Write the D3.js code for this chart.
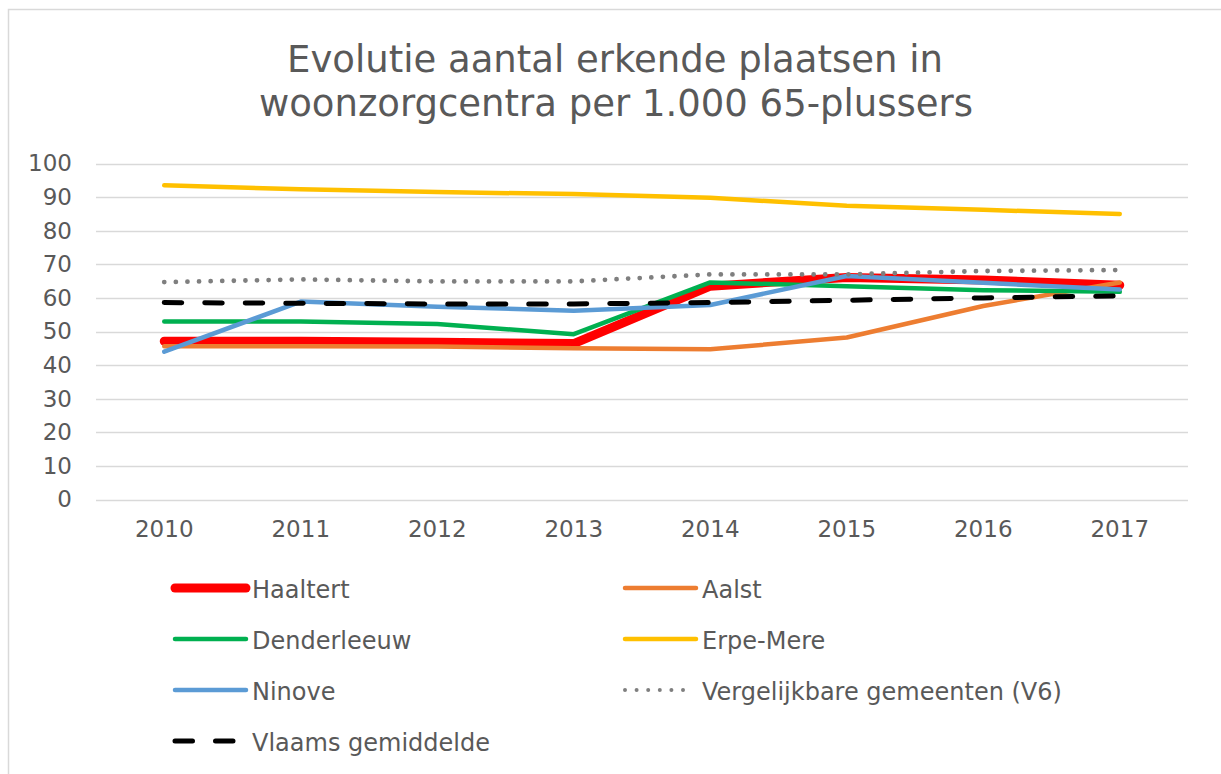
<!DOCTYPE html>
<html>
<head>
<meta charset="utf-8">
<script src="https://cdn.jsdelivr.net/npm/d3@7"></script>
<style>
  html, body { margin: 0; padding: 0; background: #fff; }
  svg { display: block; }
  text { font-family: "DejaVu Sans", Verdana, sans-serif; fill: #595959; }
</style>
</head>
<body>
<svg id="chart" width="1221" height="774"></svg>
<script>
const years = ["2010", "2011", "2012", "2013", "2014", "2015", "2016", "2017"];
const yTicks = [0, 10, 20, 30, 40, 50, 60, 70, 80, 90, 100];
const titleLines = ["Evolutie aantal erkende plaatsen in", "woonzorgcentra per 1.000 65-plussers"];

const haaltert   = [47.1, 47.1, 46.8, 46.4, 63.5, 66.1, 65.3, 63.8];
const aalst      = [45.6, 45.6, 45.5, 45.0, 44.7, 48.2, 57.6, 64.6];
const denderleeuw= [53.0, 53.0, 52.2, 49.2, 64.6, 63.5, 62.3, 61.8];
const erpeMere   = [93.5, 92.3, 91.5, 90.9, 89.8, 87.4, 86.2, 85.0];
const ninove     = [44.0, 58.9, 57.4, 56.2, 57.9, 66.5, 64.5, 62.5];
const vergelijk  = [64.7, 65.5, 64.9, 64.9, 67.0, 67.0, 68.0, 68.3];
const vlaams     = [58.6, 58.4, 58.2, 58.2, 58.6, 59.3, 60.0, 60.6];

const seriesNames = ["Haaltert", "Aalst", "Denderleeuw", "Erpe-Mere", "Ninove", "Vergelijkbare gemeenten (V6)", "Vlaams gemiddelde"];
const seriesValues = [haaltert, aalst, denderleeuw, erpeMere, ninove, vergelijk, vlaams];
const seriesColors = ["#FF0000", "#ED7D31", "#00B050", "#FFC000", "#5B9BD5", "#7F7F7F", "#000000"];
const seriesWidths = [9, 4.5, 4.5, 4.5, 4.5, 4.8, 5];
const seriesDash = [null, null, null, null, null, "0 11.6", "17.5 23"];

const svg = d3.select("#chart");

// outer border
svg.append("rect").attr("x", 8.5).attr("y", 9.5).attr("width", 1300).attr("height", 900)
  .attr("fill", "none").attr("stroke", "#d9d9d9").attr("stroke-width", 1.5);

// title
svg.append("text").attr("x", 615).attr("y", 72).attr("text-anchor", "middle")
  .style("font-size", "37px").text(titleLines[0]);
svg.append("text").attr("x", 616).attr("y", 116).attr("text-anchor", "middle")
  .style("font-size", "37px").text(titleLines[1]);

const x = d3.scaleBand().domain(years).range([96, 1188]).padding(0);
const y = d3.scaleLinear().domain([0, 100]).range([499.5, 163.5]);
const cx = d => x(d) + x.bandwidth() / 2;

// gridlines
svg.append("g").selectAll("line").data(yTicks).join("line")
  .attr("x1", 96).attr("x2", 1188)
  .attr("y1", d => Math.round(y(d)) + 0.5).attr("y2", d => Math.round(y(d)) + 0.5)
  .attr("stroke", "#d9d9d9").attr("stroke-width", 1.5);

// y axis labels
const yAxis = d3.axisLeft(y).tickValues(yTicks).tickSize(0).tickPadding(0);
const gy = svg.append("g").attr("transform", "translate(72,0)").call(yAxis);
gy.select(".domain").remove();
gy.selectAll("text").style("font-size", "23px").attr("fill", "#595959")
  .style("font-family", "'DejaVu Sans', Verdana, sans-serif");

// x axis labels
const xAxis = d3.axisBottom(x).tickSize(0).tickPadding(0);
const gx = svg.append("g").attr("transform", "translate(0,521)").call(xAxis);
gx.select(".domain").remove();
gx.selectAll("text").style("font-size", "23px").attr("fill", "#595959")
  .style("font-family", "'DejaVu Sans', Verdana, sans-serif");

// lines
const line = d3.line().x((d, i) => cx(years[i])).y(d => y(d));
seriesValues.forEach((vals, i) => {
  svg.append("path").datum(vals)
    .attr("d", line)
    .attr("fill", "none")
    .attr("stroke", seriesColors[i])
    .attr("stroke-width", seriesWidths[i])
    .attr("stroke-linejoin", "round")
    .attr("stroke-linecap", "round")
    .attr("stroke-dasharray", seriesDash[i]);
});

// legend
const legendRows = [588, 639, 690, 741];
const legendCols = [173, 623];
seriesNames.forEach((name, i) => {
  const col = i % 2, row = Math.floor(i / 2);
  const lx = legendCols[col], ly = legendRows[row];
  const x2 = seriesDash[i] === "0 11.6" ? lx + 62 : lx + 73;
  svg.append("line").attr("x1", lx + 2).attr("x2", x2).attr("y1", ly).attr("y2", ly)
    .attr("stroke", seriesColors[i]).attr("stroke-width", seriesDash[i] === "0 11.6" ? 4 : seriesWidths[i])
    .attr("stroke-linecap", "round").attr("stroke-dasharray", seriesDash[i]);
  svg.append("text").attr("x", lx + 79).attr("y", ly + 10)
    .style("font-size", "24px").text(name);
});
</script>
</body>
</html>
